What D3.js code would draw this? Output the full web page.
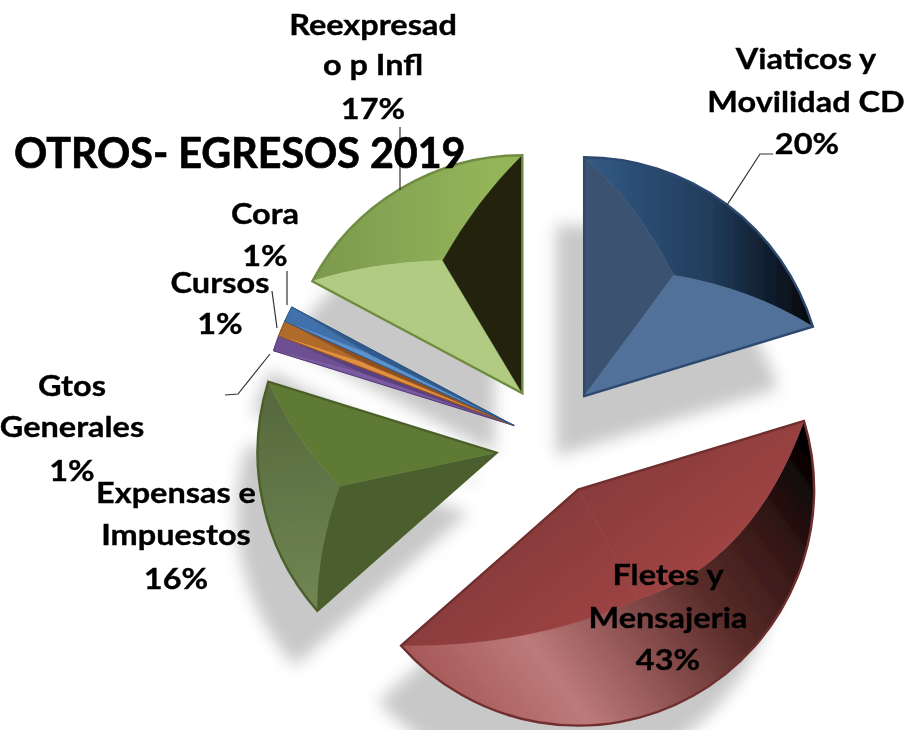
<!DOCTYPE html>
<html><head><meta charset="utf-8">
<script src="https://cdnjs.cloudflare.com/ajax/libs/d3/7.8.5/d3.min.js"></script>
<style>html,body{margin:0;padding:0;background:#fff;overflow:hidden}text{font-family:Lato,"Open Sans",sans-serif;font-weight:700;fill:#000;stroke:#000;stroke-width:.35}</style>
</head><body><svg id="c" width="908" height="730"></svg>
<script>
// Data
const categories = ["Viaticos y Movilidad CD","Fletes y Mensajeria","Expensas e Impuestos","Gtos Generales","Cursos","Cora","Reexpresado p Infl"];
const values = [20.3,43.2,16.3,1,1,1,17.2];
const percentLabels = ["20%","43%","16%","1%","1%","1%","17%"];
const titleText = "OTROS- EGRESOS 2019";

// Style / layout
const centre = [551,441];
const explode = [55.7,55.7,55.7,40,40,40,55.7];
const radii = [239,236,239,252,252,252,238];
const bevelFraction = [.63,.53,.67,.63,.63,.63,.65];
const bulgeStart = [15,62,12,0,0,0,10];
const bulgeEnd = [15,28,12,0,0,0,10];
const faceStart = ["#3a5271","url(#fl)","#4c5e2e","#7a5aa0","#e0903f","#5c92cc","#b1cc82"];
const faceEnd = ["#51719a","url(#fl)","#5f7a35","#5a3f80","#8f4f1e","#2f5a8c","#20240f"];
const outerStops = [
 [["0","#335a86"],["0.55","#213d5c"],["1","#04080d"]],
 [["0","#a45555"],["0.25","#bd7a7a"],["0.45","#8a4f4e"],["0.62","#5a2c2a"],["0.82","#341615"],["1","#000"]],
 [["0","#576a3d"],["1","#6f8552"]],
 [["0","#6d4f92"],["1","#6d4f92"]],
 [["0","#b06a2c"],["1","#b06a2c"]],
 [["0","#3f71aa"],["1","#3f71aa"]],
 [["0","#7d9a4e"],["1","#94b459"]]
];
const gradientAxes = [[584,0,810,0],[430,700,800,430],[290,400,310,600],[0,0,1,0],[0,0,1,0],[0,0,1,0],[320,0,490,0]];
const edgeColors = ["#2d4a70","#6f2f2f","#4b5f2b","#54397a","#8a4a1b","#2a527f","#6f8c41"];
const labelRows = [
 {lines:["Viaticos y","Movilidad CD","20%"],x:[806,806,807],y:[69,112,154]},
 {lines:["Fletes y","Mensajeria","43%"],x:[668,668,668],y:[585,628,670]},
 {lines:["Expensas e","Impuestos","16%"],x:[176,176,176],y:[503,545,589]},
 {lines:["Gtos","Generales","1%"],x:[72,72,72],y:[396,437,481]},
 {lines:["Cursos","1%"],x:[220,220],y:[293,334]},
 {lines:["Cora","1%"],x:[265,265],y:[224,266]},
 {lines:["Reexpresad","o p Infl","17%"],x:[373,373,373],y:[35,75,119]}
];
const leaders = [
 [[727,205],[760,154],[773,154]],
 [[400,190],[400,127]],
 [[287,305],[287,271]],
 [[277,328],[272,291]],
 [[270,354],[238,394],[225,395]]
];

const svg = d3.select("#c");
const defs = svg.append("defs");
defs.append("filter").attr("id","sh").attr("x","-30%").attr("y","-30%").attr("width","160%").attr("height","160%")
  .append("feGaussianBlur").attr("stdDeviation",8);
defs.append("filter").attr("id","soft").append("feGaussianBlur").attr("stdDeviation",.6);
defs.append("filter").attr("id","softT").append("feGaussianBlur").attr("stdDeviation",.45);
const fl=defs.append("linearGradient").attr("id","fl").attr("gradientUnits","userSpaceOnUse").attr("x1",590).attr("y1",470).attr("x2",680).attr("y2",590);
fl.append("stop").attr("offset","0").attr("stop-color","#873a3a");
fl.append("stop").attr("offset","1").attr("stop-color","#a04444");

const arcs = d3.pie().sort(null).value((d,i)=>values[i])(categories);
const dir = a => [Math.sin(a),-Math.cos(a)];
// the three thin slices share one apex, so they stay together as one exploded wedge
const thin = arcs.slice(3,6), thinMid = (thin[0].startAngle+thin[2].endAngle)/2;
const apex = arcs.map((d,i)=>{
  const v=dir(i>=3&&i<=5?thinMid:(d.startAngle+d.endAngle)/2);
  return [centre[0]+v[0]*explode[i],centre[1]+v[1]*explode[i]];
});

// shadows
const gs = svg.append("g").attr("filter","url(#sh)");
arcs.forEach((d,i)=>{
  gs.append("path").attr("d",d3.arc().innerRadius(0).outerRadius(radii[i])(d))
    .attr("transform",`translate(${apex[i][0]-28},${apex[i][1]+60}) scale(.97)`).attr("fill","#c8c8c8");
});

// gradients
arcs.forEach((d,i)=>{
  const ax=gradientAxes[i];
  const g=defs.append("linearGradient").attr("id","o"+i).attr("gradientUnits","userSpaceOnUse")
    .attr("x1",ax[0]).attr("y1",ax[1]).attr("x2",ax[2]).attr("y2",ax[3]);
  outerStops[i].forEach(s=>g.append("stop").attr("offset",s[0]).attr("stop-color",s[1]));
});

// slices
const gp = svg.append("g").attr("filter","url(#soft)");
arcs.forEach((d,i)=>{
  const r=radii[i], a0=d.startAngle, a1=d.endAngle, m=dir((a0+a1)/2);
  const [ax,ay]=apex[i];
  const tip=a=>{const v=dir(a);return [ax+v[0]*r,ay+v[1]*r];};
  const T1=tip(a0),T2=tip(a1),I=[ax+m[0]*r*bevelFraction[i],ay+m[1]*r*bevelFraction[i]];
  const ctrl=(T,k)=>[(T[0]+I[0])/2+m[0]*k,(T[1]+I[1])/2+m[1]*k];
  const C1=ctrl(T1,bulgeStart[i]),C2=ctrl(T2,bulgeEnd[i]);
  const f1=d3.path();f1.moveTo(ax,ay);f1.lineTo(...T1);f1.quadraticCurveTo(C1[0],C1[1],I[0],I[1]);f1.closePath();
  const f3=d3.path();f3.moveTo(ax,ay);f3.lineTo(...I);f3.quadraticCurveTo(C2[0],C2[1],T2[0],T2[1]);f3.closePath();
  const f2=d3.path();f2.moveTo(...T1);f2.arc(ax,ay,r,a0-Math.PI/2,a1-Math.PI/2);
  f2.quadraticCurveTo(C2[0],C2[1],I[0],I[1]);f2.quadraticCurveTo(C1[0],C1[1],T1[0],T1[1]);f2.closePath();
  gp.append("path").attr("d",f2).attr("fill",`url(#o${i})`).attr("stroke",`url(#o${i})`).attr("stroke-width",.6);
  gp.append("path").attr("d",f1).attr("fill",faceStart[i]).attr("stroke",faceStart[i]).attr("stroke-width",.6);
  gp.append("path").attr("d",f3).attr("fill",faceEnd[i]).attr("stroke",faceEnd[i]).attr("stroke-width",.6);
  gp.append("path").attr("d",d3.arc().innerRadius(0).outerRadius(r)(d)).attr("transform",`translate(${ax},${ay})`)
    .attr("fill","none").attr("stroke",edgeColors[i]).attr("stroke-width",i>=3&&i<=5?1:2.4).attr("stroke-linejoin","miter");
});

// leader lines
const line=d3.line();
svg.append("g").selectAll("path").data(leaders).join("path").attr("d",line).attr("fill","none").attr("stroke","#333").attr("stroke-width",1.2);

// labels
const gt=svg.append("g").attr("filter","url(#softT)");
labelRows.forEach(l=>l.lines.forEach((t,j)=>{
  gt.append("text").attr("transform",`translate(${l.x[j]},${l.y[j]}) scale(1.12,1)`).attr("text-anchor","middle").attr("font-size",29).text(t);
}));
gt.append("text").attr("x",14).attr("y",168).attr("font-size",41.2).style("stroke-width",.7).text(titleText);
</script></body></html>
